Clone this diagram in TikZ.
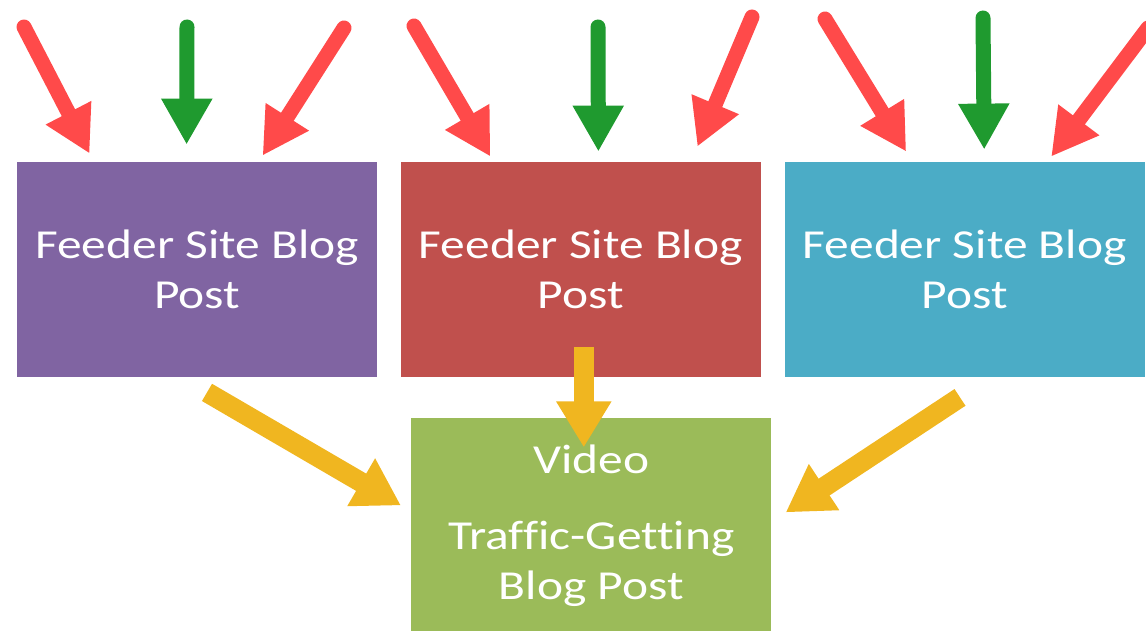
\documentclass[tikz,border=0pt]{standalone}
\usepackage{fontspec}
\setmainfont{Carlito}[FakeStretch=1.2,Ligatures=NoCommon]
\usetikzlibrary{arrows.meta,positioning,calc}
\definecolor{postpurple}{HTML}{8064A2}
\definecolor{postred}{HTML}{C0504D}
\definecolor{postblue}{HTML}{4BACC6}
\definecolor{postgreen}{HTML}{9BBB59}
\definecolor{inred}{HTML}{FF4A4A}
\definecolor{ingreen}{HTML}{1F9A2F}
\definecolor{outgold}{HTML}{F0B620}
\tikzset{post/.style={
    rectangle,
    inner sep=0pt,
    minimum width=180pt,
    minimum height=107.5pt,
    text=white,
    align=center,
    font=\fontsize{20.6}{25}\selectfont,
  }}
\tikzset{feedin/.style={
    line width=7.5pt,
    line cap=round,
    -{Triangle[length=23pt,width=24pt]},
  }}
\tikzset{feedout/.style={
    outgold,
    line width=10pt,
    -{Triangle[length=23pt,width=26pt]},
  }}
\begin{document}
\begin{tikzpicture}[x=0.5pt,y=-0.5pt]
        \useasboundingbox (0,0) rectangle (1146,631);

        \node (feedA) [post,fill=postpurple] at (197,269.5) {Feeder Site Blog\\Post};
        \node (feedB) [post,fill=postred,right=11.5pt of feedA] {Feeder Site Blog\\Post};
        \node (feedC) [post,fill=postblue,right=11.5pt of feedB] {Feeder Site Blog\\Post};

        \node (vid) [post,fill=postgreen,below=20pt of feedB,xshift=5.25pt]
        {Video\\[13pt]Traffic-Getting\\Blog Post};

        % incoming links
        \coordinate (tA1) at (24,27);
        \coordinate (tA2) at (187,27);
        \coordinate (tA3) at (344,28);
        \coordinate (tB1) at (414,26);
        \coordinate (tB2) at (598,27);
        \coordinate (tB3) at (752,17);
        \coordinate (tC1) at (825,19);
        \coordinate (tC2) at (983,18);
        \coordinate (tC3) at (1148,28);

        \draw [feedin,inred] (tA1) -- ([shift={(73,-8)}]feedA.north west);
        \draw [feedin,ingreen] (tA2) -- ([shift={(170,-17)}]feedA.north west);
        \draw [feedin,inred] (tA3) -- ([shift={(246,-6)}]feedA.north west);

        \draw [feedin,inred] (tB1) -- ([shift={(90,-5)}]feedB.north west);
        \draw [feedin,ingreen] (tB2) -- ([shift={(198,-10)}]feedB.north west);
        \draw [feedin,inred] (tB3) -- ([shift={(297,-15)}]feedB.north west);

        \draw [feedin,inred] (tC1) -- ([shift={(122,-10)}]feedC.north west);
        \draw [feedin,ingreen] (tC2) -- ([shift={(200,-12)}]feedC.north west);
        \draw [feedin,inred] (tC3) -- ([shift={(267,-5)}]feedC.north west);

        % links to the video post
        \draw [feedout] ([shift={(10,15)}]feedA.south) -- ([shift={(-10,88)}]vid.north west);
        \draw [feedout] ([shift={(3,-30)}]feedB.south) -- ([shift={(-7.5,30)}]vid.north);
        \draw [feedout] ([shift={(-185,20)}]feedC.south east) -- ([shift={(14,95)}]vid.north east);
      \end{tikzpicture}
\end{document}
